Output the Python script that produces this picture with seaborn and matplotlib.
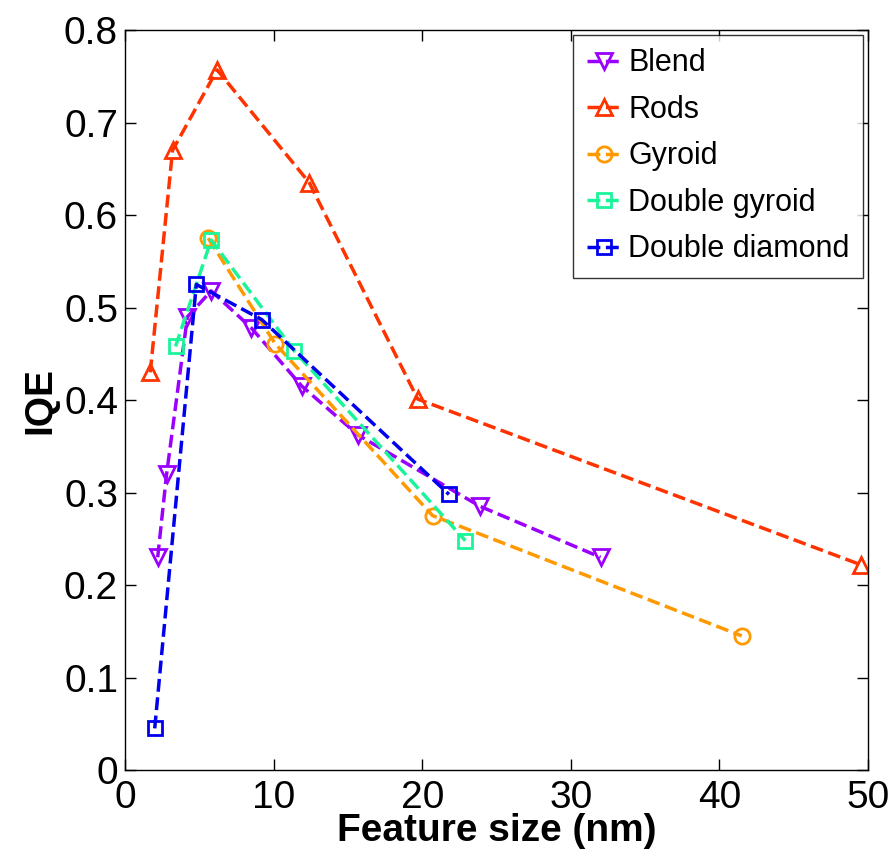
import matplotlib
matplotlib.use("Agg")
import matplotlib.pyplot as plt
import seaborn as sns
import pandas as pd

blend_x = [2.2, 2.8, 4.2, 5.8, 8.5, 11.9, 15.7, 23.9, 32.0]
blend_y = [0.23, 0.32, 0.49, 0.518, 0.478, 0.415, 0.362, 0.285, 0.23]
rods_x = [1.7, 3.2, 6.2, 12.4, 19.7, 49.5]
rods_y = [0.43, 0.67, 0.757, 0.635, 0.401, 0.222]
gyroid_x = [5.6, 10.1, 20.7, 41.5]
gyroid_y = [0.575, 0.461, 0.275, 0.145]
dgyroid_x = [3.4, 5.8, 11.4, 22.9]
dgyroid_y = [0.458, 0.573, 0.453, 0.248]
ddiamond_x = [2.0, 4.8, 9.2, 21.8]
ddiamond_y = [0.045, 0.525, 0.487, 0.298]

series = [
    ("Blend", blend_x, blend_y, "#9B00FF", "v", 12),
    ("Rods", rods_x, rods_y, "#FF3300", "^", 12),
    ("Gyroid", gyroid_x, gyroid_y, "#FF9900", "o", 11),
    ("Double gyroid", dgyroid_x, dgyroid_y, "#1AF59A", "s", 10),
    ("Double diamond", ddiamond_x, ddiamond_y, "#0000EE", "s", 10),
]

sns.set_style("white")
plt.rcParams["font.family"] = ["Liberation Sans", "DejaVu Sans"]
plt.rcParams["text.color"] = "black"
plt.rcParams["axes.labelcolor"] = "black"
plt.rcParams["xtick.color"] = "black"
plt.rcParams["ytick.color"] = "black"

fig = plt.figure(figsize=(8.96, 8.59), dpi=100)
ax = fig.add_axes([0.1395, 0.1036, 0.8293, 0.8614])

for name, xs, ys, c, m, ms in series:
    df = pd.DataFrame({"x": xs, "y": ys})
    sns.lineplot(data=df, x="x", y="y", ax=ax, color=c, marker=m, linestyle="--",
                 linewidth=2.5, markersize=ms, markerfacecolor="none",
                 markeredgecolor=c, markeredgewidth=2, label=name,
                 sort=False, estimator=None)

ax.set_xlim(0, 50)
ax.set_ylim(0, 0.8)
ax.set_xticks([0, 10, 20, 30, 40, 50])
ax.set_yticks([0, 0.1, 0.2, 0.3, 0.4, 0.5, 0.6, 0.7, 0.8])
ax.set_yticklabels(["0", "0.1", "0.2", "0.3", "0.4", "0.5", "0.6", "0.7", "0.8"])
ax.tick_params(direction="in", length=8, width=1, labelsize=28, top=True, right=True,
               bottom=True, left=True)
ax.tick_params(axis="x", pad=7)
ax.tick_params(axis="y", pad=5)
ax.set_xlabel("Feature size (nm)", fontsize=28, fontweight="bold", labelpad=-2)
ax.set_ylabel("IQE", fontsize=28, fontweight="bold", labelpad=4)
for s in ax.spines.values():
    s.set_color("black")
    s.set_linewidth(1)

leg = ax.legend(loc="upper right", fontsize=22, frameon=True, fancybox=False,
                edgecolor="black", handlelength=1.1, borderaxespad=0.15,
                labelspacing=0.54, handletextpad=0.25, borderpad=0.45)
leg.get_frame().set_linewidth(1)

fig.savefig("out.png", dpi=100)
